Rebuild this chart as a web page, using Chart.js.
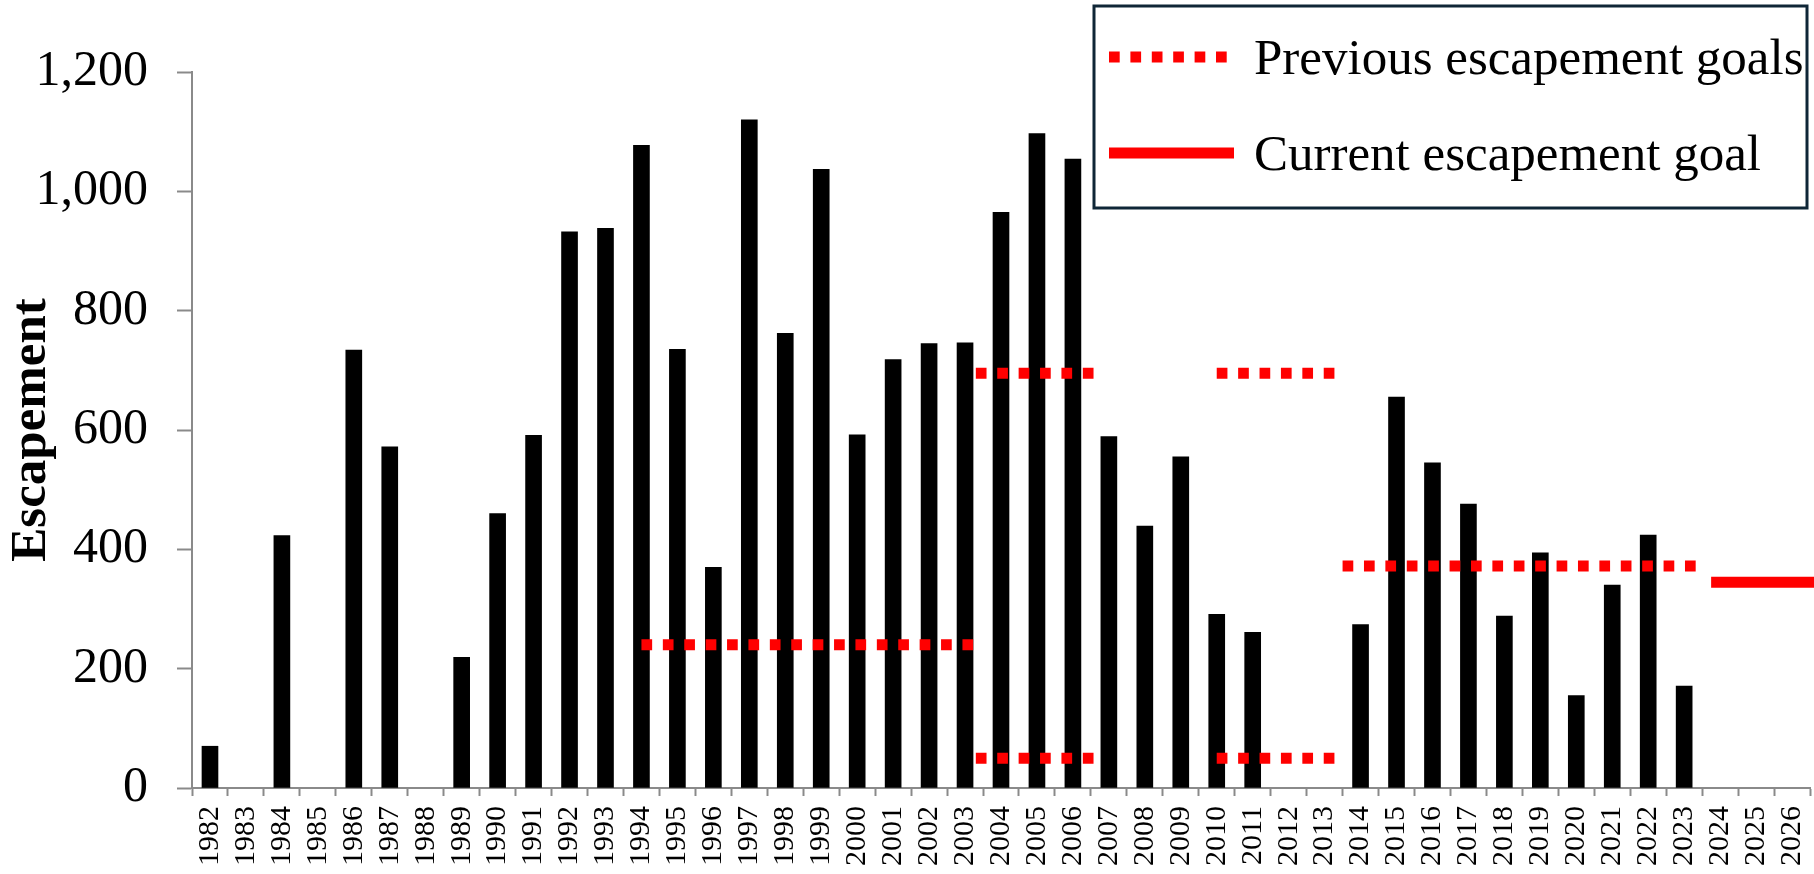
<!DOCTYPE html>
<html>
<head>
<meta charset="utf-8">
<script src="https://cdn.jsdelivr.net/npm/chart.js@4"></script>
<style>
  html, body { margin: 0; padding: 0; background: #ffffff; }
  #wrap { width: 1814px; height: 874px; position: relative; }
</style>
</head>
<body>
<div id="wrap"><canvas id="c" width="1814" height="874"></canvas></div>
<script>
// ---- data ----
const years = ['1982','1983','1984','1985','1986','1987','1988','1989','1990','1991','1992','1993','1994','1995','1996','1997','1998','1999','2000','2001','2002','2003','2004','2005','2006','2007','2008','2009','2010','2011','2012','2013','2014','2015','2016','2017','2018','2019','2020','2021','2022','2023','2024','2025','2026'];
const escapement = [70,null,423,null,734,572,null,219,460,591,932,938,1077,735,370,1120,762,1037,592,718,745,746,965,1097,1054,589,439,555,291,261,null,null,274,655,545,476,288,394,155,340,424,171,null,null,null];

// previous goal segments: start year, end year, goal value
const prevStart = [1994, 2003.3, 2003.3, 2010, 2010, 2013.5];
const prevEnd   = [2003.3, 2006.6, 2006.6, 2013.3, 2013.3, 2023.4];
const prevGoal  = [240, 695, 50, 695, 50, 372];

// current goal segment
const curStart = [2023.75];
const curEnd   = [2026.7];
const curGoal  = [345];

const yTicksMax = 1200;
const yTickStep = 200;

const RED = '#ff0000';
const DASH = [10.7, 10.7];

const datasets = [{
  type: 'bar',
  label: 'Escapement',
  data: escapement,
  backgroundColor: '#000000',
  borderWidth: 0,
  barThickness: 16,
  grouped: false,
  xAxisID: 'x',
  yAxisID: 'y',
  order: 2
}];

prevGoal.forEach((g, i) => {
  datasets.push({
    type: 'line', label: 'Previous escapement goals',
    data: [{x: prevStart[i], y: g}, {x: prevEnd[i], y: g}],
    borderColor: RED, borderWidth: 11, borderDash: DASH, borderCapStyle: 'butt',
    pointRadius: 0, fill: false, xAxisID: 'x2', yAxisID: 'y', order: 1, legendShow: i === 0
  });
});
curGoal.forEach((g, i) => {
  datasets.push({
    type: 'line', label: 'Current escapement goal',
    data: [{x: curStart[i], y: g}, {x: curEnd[i], y: g}],
    borderColor: RED, borderWidth: 11, borderDash: [], borderCapStyle: 'butt',
    pointRadius: 0, fill: false, clip: false, xAxisID: 'x2', yAxisID: 'y', order: 1, legendShow: i === 0
  });
});

// boxed legend drawn from the dataset styles
const boxedLegend = {
  id: 'boxedLegend',
  afterDraw(chart) {
    const ctx = chart.ctx;
    const items = chart.data.datasets.filter(d => d.legendShow);
    const box = {x: 1094, y: 6, w: 713, h: 202};
    ctx.save();
    ctx.fillStyle = '#ffffff';
    ctx.fillRect(box.x, box.y, box.w, box.h);
    ctx.strokeStyle = '#0f2637';
    ctx.lineWidth = 3;
    ctx.strokeRect(box.x, box.y, box.w, box.h);
    const rows = [57, 153];
    const baselines = [74, 170];
    items.forEach((d, i) => {
      const y = rows[i];
      ctx.beginPath();
      ctx.strokeStyle = d.borderColor;
      ctx.lineWidth = d.borderWidth;
      ctx.lineCap = 'butt';
      ctx.setLineDash(d.borderDash || []);
      ctx.moveTo(1109, y);
      ctx.lineTo(d.borderDash && d.borderDash.length ? 1227 : 1234, y);
      ctx.stroke();
      ctx.setLineDash([]);
      ctx.fillStyle = '#000000';
      ctx.font = '51px "Liberation Serif", "Times New Roman", serif';
      ctx.textAlign = 'left';
      ctx.textBaseline = 'alphabetic';
      ctx.fillText(d.label, 1254, baselines[i]);
    });
    ctx.restore();
  }
};

new Chart(document.getElementById('c'), {
  type: 'bar',
  data: { labels: years, datasets: datasets },
  options: {
    responsive: false,
    animation: false,
    events: [],
    layout: { padding: { top: 72, right: 4, bottom: 0, left: 0 } },
    plugins: { legend: { display: false }, tooltip: { enabled: false }, title: { display: false } },
    scales: {
      x: {
        type: 'category', offset: true,
        grid: { offset: true, drawOnChartArea: false, drawTicks: true, tickLength: 8, tickWidth: 2, tickColor: '#8a8a8a' },
        border: { display: true, color: '#8a8a8a', width: 2 },
        ticks: { autoSkip: false, minRotation: 90, maxRotation: 90, padding: 10, color: '#000000',
          font: { family: '"Liberation Serif", serif', size: 30 } },
        afterFit(scale) { scale.height = 86; scale.paddingLeft = 0; scale.paddingRight = 0; }
      },
      x2: { type: 'linear', display: false, min: 1981.5, max: 2026.5, offset: false },
      y: {
        type: 'linear', min: 0, max: yTicksMax,
        grid: { drawOnChartArea: false, drawTicks: true, tickLength: 15, tickWidth: 2, tickColor: '#8a8a8a' },
        border: { display: true, color: '#8a8a8a', width: 2 },
        ticks: { stepSize: yTickStep, padding: 29, color: '#000000', font: { family: '"Liberation Serif", serif', size: 50 } },
        title: { display: true, text: 'Escapement', color: '#000000',
          font: { family: '"Liberation Serif", serif', size: 51, weight: 'bold', lineHeight: 1 }, padding: { top: 6, bottom: 0 } },
        afterFit(scale) { scale.width = 192; }
      }
    }
  },
  plugins: [boxedLegend]
});
</script>
</body>
</html>
